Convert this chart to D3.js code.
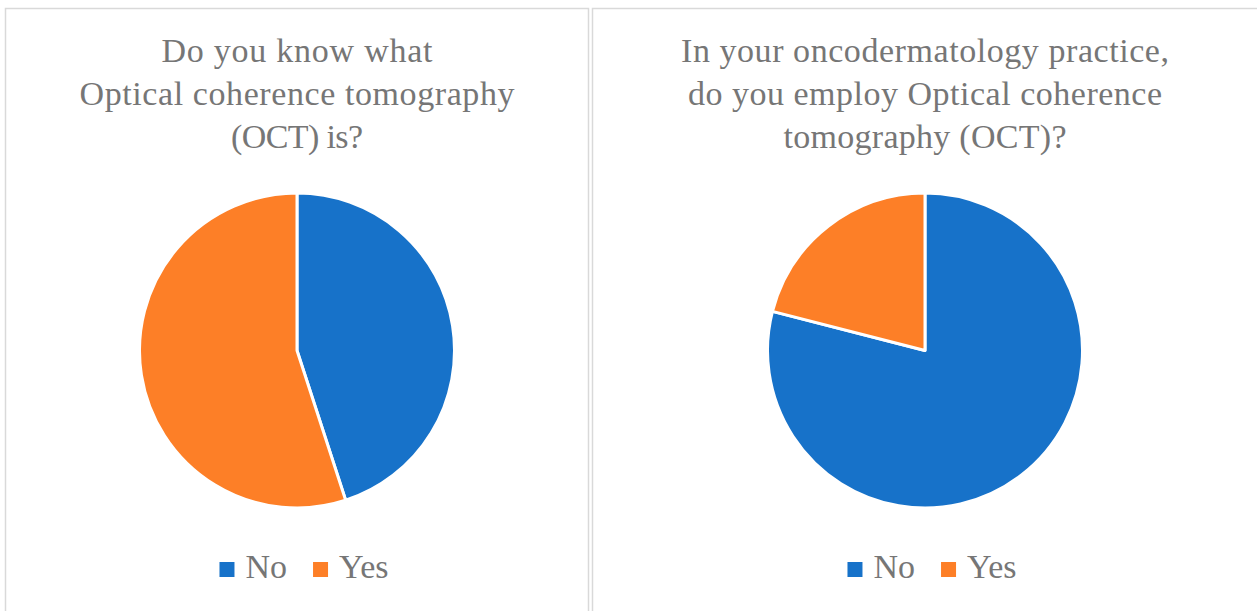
<!DOCTYPE html>
<html>
<head>
<meta charset="utf-8">
<script src="https://cdn.jsdelivr.net/npm/d3@7"></script>
<style>
  html, body { margin: 0; padding: 0; background: #ffffff; }
  svg { display: block; }
</style>
</head>
<body>
<svg id="chart" width="1257" height="611"></svg>
<script>
// Survey answers, shown as percentages of respondents
const categories = ["No", "Yes"];
const knowOCT = [45, 55];
const employOCT = [79, 21];

const titleKnow = ["Do you know what", "Optical coherence tomography", "(OCT) is?"];
const titleEmploy = ["In your oncodermatology practice,", "do you employ Optical coherence", "tomography (OCT)?"];

const colors = d3.scaleOrdinal().domain(categories).range(["#1772c9", "#fd7f27"]);

const svg = d3.select("#chart");
const FONT = "'Liberation Serif', 'Times New Roman', serif";
const TEXT_COLOR = "#767676";

const panels = [
  { x0: 5.5, x1: 588.5, cx: 297, title: titleKnow, values: knowOCT, titleWidths: [271, 435, 132] },
  { x0: 592.5, x1: 1260, cx: 925, title: titleEmploy, values: employOCT, titleWidths: [488, 474, 283] }
];

const pie = d3.pie().sort(null).value(d => d.value);
const radius = 157.5;
const arc = d3.arc().innerRadius(0).outerRadius(radius);

panels.forEach(p => {
  const cx = p.cx;
  const g = svg.append("g");

  // panel frame
  g.append("rect")
    .attr("x", p.x0).attr("y", 8.5)
    .attr("width", p.x1 - p.x0).attr("height", 640)
    .attr("fill", "#ffffff")
    .attr("stroke", "#d9d9d9").attr("stroke-width", 1.5);

  // title, three centred lines
  p.title.forEach((line, i) => {
    g.append("text")
      .attr("x", cx).attr("y", 62 + i * 43)
      .attr("text-anchor", "middle")
      .attr("font-family", FONT)
      .attr("font-size", 34)
      .attr("fill", TEXT_COLOR)
      .attr("textLength", p.titleWidths[i])
      .attr("lengthAdjust", "spacing")
      .text(line);
  });

  // pie, starting at twelve o'clock and running clockwise
  const data = categories.map((c, i) => ({ key: c, value: p.values[i] }));
  const pg = g.append("g").attr("transform", `translate(${cx},350.5)`);
  pg.selectAll("path")
    .data(pie(data))
    .join("path")
    .attr("d", arc)
    .attr("fill", d => colors(d.data.key))
    .attr("stroke", "#ffffff")
    .attr("stroke-width", 3)
    .attr("stroke-linejoin", "round");

  // legend below the pie
  const lg = g.append("g");
  const sq = 15, gapText = 11, gapItem = 26;
  let x = 0;
  categories.forEach(c => {
    const item = lg.append("g").attr("transform", `translate(${x},0)`);
    item.append("rect")
      .attr("x", 0).attr("y", 562)
      .attr("width", sq).attr("height", sq)
      .attr("fill", colors(c));
    const t = item.append("text")
      .attr("x", sq + gapText).attr("y", 578)
      .attr("font-family", FONT)
      .attr("font-size", 34)
      .attr("fill", TEXT_COLOR)
      .text(c);
    const w = t.node().getComputedTextLength();
    x += sq + gapText + w + gapItem;
  });
  const total = x - gapItem;
  lg.attr("transform", `translate(${cx + 7 - total / 2},0)`);
});
</script>
</body>
</html>
